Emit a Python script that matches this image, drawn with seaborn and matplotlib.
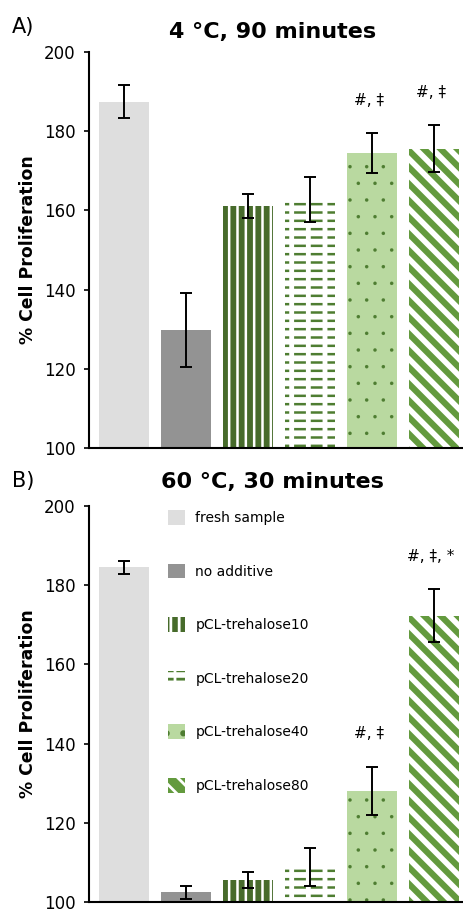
import numpy as np
import pandas as pd
import matplotlib
matplotlib.use("Agg")
import matplotlib.pyplot as plt
import matplotlib.patches as mpatches
import seaborn as sns

# categories (one bar each, same order in both panels)
groups = ["fresh sample", "no additive", "pCL-trehalose10",
          "pCL-trehalose20", "pCL-trehalose40", "pCL-trehalose80"]

# A) 4 °C, 90 minutes
cold_mean = [187.5, 129.8, 161.2, 162.8, 174.5, 175.6]
cold_err = [4.1, 9.3, 3.0, 5.7, 5.0, 6.0]
cold_marks = ["", "", "", "", "#, ‡", "#, ‡"]

# B) 60 °C, 30 minutes
heat_mean = [184.5, 102.4, 105.6, 108.8, 128.1, 172.3]
heat_err = [1.7, 1.6, 2.0, 4.8, 6.1, 6.7]
heat_marks = ["", "", "", "", "#, ‡", "#, ‡, *"]

panel_tags = ["A)", "B)"]
panel_titles = ["4 °C, 90 minutes", "60 °C, 30 minutes"]

plt.rcParams["font.family"] = ["DejaVu Sans"]
plt.rcParams["hatch.linewidth"] = 2.0

# face colour, hatch, hatch colour, hatch linewidth
styles = {
    "fresh sample":    ("#dedede", None, "#dedede", 1.0),
    "no additive":     ("#939393", None, "#939393", 1.0),
    "pCL-trehalose10": ("#476b2b", "||", "white", 1.8),
    "pCL-trehalose20": ("white", "--", "#4e7d31", 1.8),
    "pCL-trehalose40": ("#b9d9a0", ".", "#4e7d31", 0.1),
    "pCL-trehalose80": ("#639a3e", "\\\\", "white", 4.0),
}


def style_patch(p, name):
    face, hatch, hcol, hlw = styles[name]
    p.set_facecolor(face)
    p.set_edgecolor(hcol)
    p.set_linewidth(0)
    if hatch:
        p.set_hatch(hatch)
        if hasattr(p, "set_hatch_linewidth"):
            p.set_hatch_linewidth(hlw)


def dash_breaker(p):
    # white vertical hatch on top of the horizontal one -> short dashes
    p.set_facecolor("none")
    p.set_edgecolor("white")
    p.set_linewidth(0)
    p.set_hatch("|")
    if hasattr(p, "set_hatch_linewidth"):
        p.set_hatch_linewidth(3.5)


fig = plt.figure(figsize=(4.63, 9.11), dpi=100)
ax_top = fig.add_axes([0.1922, 0.5082, 0.8078, 0.4347])
ax_bot = fig.add_axes([0.1922, 0.0099, 0.8078, 0.4347])

data_sets = [(cold_mean, cold_err, cold_marks), (heat_mean, heat_err, heat_marks)]
tag_y = [1 - 33.5 / 911, 1 - 487 / 911]
title_y = [1 - 38.3 / 911, 1 - 488 / 911]

for k, ax in enumerate([ax_top, ax_bot]):
    mean, err, marks = data_sets[k]
    df = pd.DataFrame({"group": groups, "value": mean})
    sns.barplot(data=df, x="group", y="value", hue="group", order=groups,
                hue_order=groups, legend=False, errorbar=None, width=0.8, ax=ax)

    bars = list(ax.patches)
    for p, name in zip(bars, groups):
        style_patch(p, name)
    b = bars[groups.index("pCL-trehalose20")]
    over = mpatches.Rectangle((b.get_x(), b.get_y()), b.get_width(), b.get_height())
    dash_breaker(over)
    ax.add_patch(over)

    x_pos = np.arange(len(groups))
    ax.errorbar(x_pos, mean, yerr=err, fmt="none", ecolor="black",
                elinewidth=1.4, capsize=4, capthick=1.4, zorder=3)

    for i, m in enumerate(marks):
        if m:
            ax.text(i - 0.05, mean[i] + err[i] + 8.3, m, ha="center",
                    va="center", fontsize=11)

    ax.set_xlim(-0.56, 5.47)
    ax.set_ylim(100, 200)
    ax.set_yticks(np.arange(100, 201, 20))
    ax.set_xticks([])
    ax.set_xlabel("")
    ax.set_ylabel("% Cell Proliferation", fontsize=12.4, fontweight="bold")
    ax.yaxis.set_label_coords(-0.139, 0.5)
    ax.tick_params(axis="y", length=3.5, width=1.2, pad=6, labelsize=12)
    for s in ["top", "right"]:
        ax.spines[s].set_visible(False)
    for s in ["left", "bottom"]:
        ax.spines[s].set_linewidth(1.5)
        ax.spines[s].set_color("black")

    fig.text(12 / 463, tag_y[k], panel_tags[k], fontsize=15, ha="left", va="baseline")
    fig.text(0.588, title_y[k], panel_titles[k], fontsize=16, fontweight="bold",
             ha="center", va="baseline")

# legend in the lower panel
handles = []
for name in groups:
    h = mpatches.Patch()
    style_patch(h, name)
    if name == "pCL-trehalose20":
        h2 = mpatches.Patch()
        dash_breaker(h2)
        h = (h, h2)
    handles.append(h)
ax_bot.legend(handles, groups, loc="upper left", bbox_to_anchor=(0.211, 0.99),
              frameon=False, fontsize=10, handlelength=1.25, handleheight=1.25,
              handletextpad=0.72, labelspacing=2.78, borderpad=0, borderaxespad=0)

fig.savefig("out.png", dpi=100)
